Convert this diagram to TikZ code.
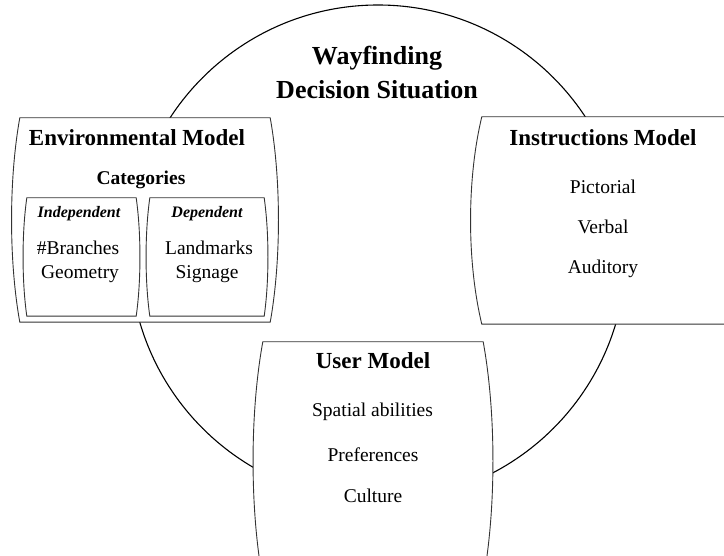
\documentclass[tikz,border=0pt]{standalone}
\usepackage{fontspec}
\setmainfont{Liberation Serif}
\usetikzlibrary{calc}

\newcommand{\barrelbox}[2]{%
  \filldraw[box line] (#1.north west) -- (#1.north east)
    .. controls ([xshift=#2]$(#1.north east)!.3!(#1.south east)$) and ([xshift=#2]$(#1.north east)!.7!(#1.south east)$) .. (#1.south east)
    -- (#1.south west)
    .. controls ([xshift=-#2]$(#1.north west)!.7!(#1.south west)$) and ([xshift=-#2]$(#1.north west)!.3!(#1.south west)$) .. cycle;}

\begin{document}
\begin{tikzpicture}[x=1pt,y=-1pt,
  box/.style={rectangle,inner sep=0pt},
  box line/.style={draw=black!80,fill=white,line width=0.9pt},
  title/.style={anchor=base,inner sep=0pt,font=\fontsize{23}{27}\selectfont\bfseries},
  item/.style={anchor=base,inner sep=0pt,font=\fontsize{19.5}{23}\selectfont},
  kind/.style={anchor=base,inner sep=0pt,font=\fontsize{16}{19}\selectfont\bfseries\itshape}]

  \useasboundingbox (0,0) rectangle (724,556);
  \clip (0,0) rectangle (724,556);

  \node[circle,draw,line width=1.1pt,minimum size=496pt,inner sep=0pt] (situation) at (378,253) {};

  \node[box,minimum width=250pt,minimum height=204pt] (env) at (145,220) {};
  \node[box,minimum width=109pt,minimum height=118pt] (indep) at (81.5,257) {};
  \node[box,minimum width=114pt,minimum height=118pt] (dep) at (207,257) {};
  \node[box,minimum width=258pt,minimum height=207pt] (instr) at (611,220.5) {};
  \node[box,minimum width=220pt,minimum height=238pt] (user) at (373,461) {};

  \barrelbox{env}{11pt}
  \barrelbox{indep}{5pt}
  \barrelbox{dep}{5pt}
  \barrelbox{instr}{15pt}
  \barrelbox{user}{13pt}

  \node[anchor=base,inner sep=0pt,align=center,font=\fontsize{26}{34}\selectfont\bfseries] (wdt) at (377,99) {Wayfinding\\Decision Situation};

  \node[title] (envt) at (137,146) {Environmental Model};
  \node[item,font=\fontsize{19.5}{23}\selectfont\bfseries] (cat) at (141,185) {Categories};
  \node[kind] (indept) at (79,218) {Independent};
  \node[kind] (dept) at (207,218) {Dependent};
  \node[item] (branches) at (78,255) {\#Branches};
  \node[item] (geometry) at (80,279) {Geometry};
  \node[item] (landmarks) at (209,255) {Landmarks};
  \node[item] (signage) at (207,279) {Signage};

  \node[title] (instrt) at (603,146) {Instructions Model};
  \node[item] (pictorial) at (603,194) {Pictorial};
  \node[item] (verbal) at (603,234) {Verbal};
  \node[item] (auditory) at (603,274) {Auditory};

  \node[title] (usert) at (373,369) {User Model};
  \node[item] (spatial) at (372.5,417) {Spatial abilities};
  \node[item] (prefs) at (373,461) {Preferences};
  \node[item] (culture) at (373,503) {Culture};
\end{tikzpicture}
\end{document}
